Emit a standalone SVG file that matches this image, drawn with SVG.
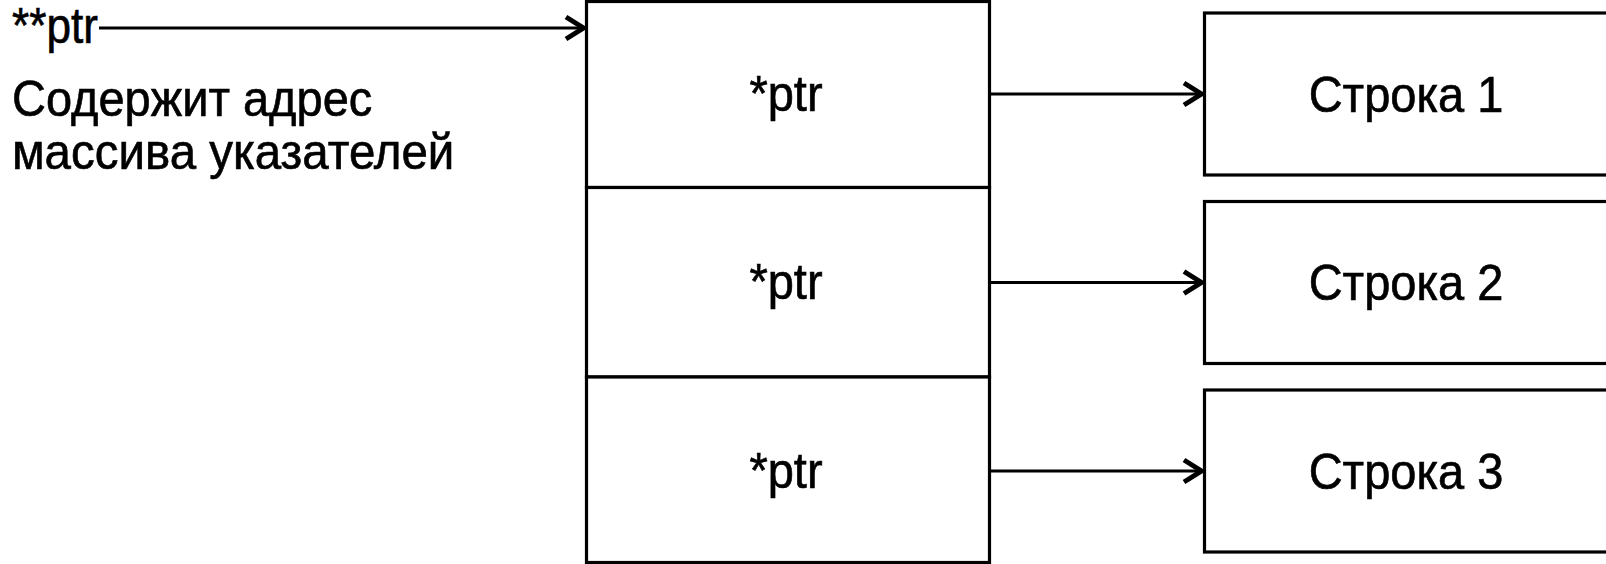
<svg xmlns="http://www.w3.org/2000/svg" width="1606" height="564" viewBox="0 0 1606 564">
  <style>
    .box { fill: #ffffff; stroke: #000000; stroke-width: 3.2; }
    .lbl { font-family: "Liberation Sans", Arial, sans-serif; font-size: 47px; fill: #000000; stroke: #000000; stroke-width: 0.6; }
    .mid { text-anchor: middle; }
    .conn { stroke: #000000; stroke-width: 3.2; fill: none; marker-end: url(#arrow); }
  </style>
  <defs>
    <marker id="arrow" markerUnits="userSpaceOnUse" viewBox="-24 -14 26 28" refX="0" refY="0" markerWidth="26" markerHeight="28" orient="auto">
      <path d="M-19,-11 L-1.5,0 L-19,11" fill="none" stroke="#000000" stroke-width="5" stroke-linejoin="miter" stroke-miterlimit="10"/>
    </marker>
  </defs>
  <rect width="1606" height="564" fill="#ffffff"/>

  <g id="label-ptrptr">
    <text class="lbl" transform="translate(12,43) scale(0.94,1.08)">**ptr</text>
  </g>
  <g id="label-desc">
    <text class="lbl" transform="translate(12,116) scale(1,1.08)">Содержит адрес</text>
    <text class="lbl" transform="translate(12,169) scale(1.01,1.08)">массива указателей</text>
  </g>

  <g id="array">
    <g id="cell-1">
      <rect class="box" x="586.5" y="1.5" width="403" height="186"/>
      <text class="lbl mid" transform="translate(786,111) scale(1,1.08)">*ptr</text>
    </g>
    <g id="cell-2">
      <rect class="box" x="586.5" y="187.5" width="403" height="189.5"/>
      <text class="lbl mid" transform="translate(786,299) scale(1,1.08)">*ptr</text>
    </g>
    <g id="cell-3">
      <rect class="box" x="586.5" y="377" width="403" height="185.5"/>
      <text class="lbl mid" transform="translate(786,488) scale(1,1.08)">*ptr</text>
    </g>
  </g>

  <g id="str-1">
    <rect class="box" x="1204.5" y="13" width="404" height="162"/>
    <text class="lbl mid" transform="translate(1406,112) scale(1,1.08)">Строка 1</text>
  </g>
  <g id="str-2">
    <rect class="box" x="1204.5" y="201.5" width="404" height="162"/>
    <text class="lbl mid" transform="translate(1406,300) scale(1,1.08)">Строка 2</text>
  </g>
  <g id="str-3">
    <rect class="box" x="1204.5" y="390" width="404" height="162"/>
    <text class="lbl mid" transform="translate(1406,489) scale(1,1.08)">Строка 3</text>
  </g>

  <g id="connectors">
    <line class="conn" x1="99" y1="28" x2="585" y2="28"/>
    <line class="conn" x1="991" y1="94" x2="1203" y2="94"/>
    <line class="conn" x1="991" y1="282.5" x2="1203" y2="282.5"/>
    <line class="conn" x1="991" y1="471" x2="1203" y2="471"/>
  </g>
</svg>
